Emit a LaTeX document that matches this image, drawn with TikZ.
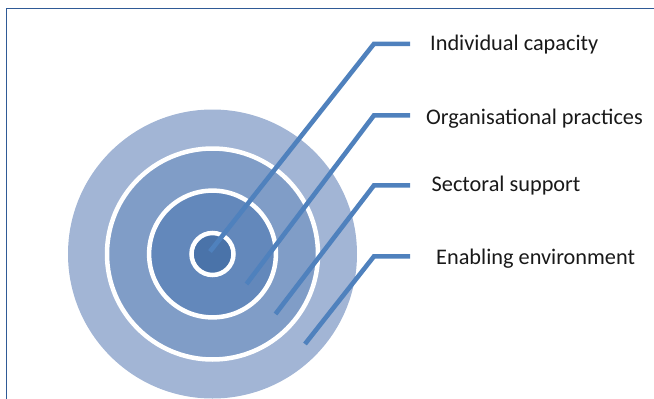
\documentclass[tikz,border=0pt]{standalone}
\usepackage{fontspec}
\setmainfont{Carlito}
\definecolor{frameblue}{HTML}{2F5A96}
\definecolor{ringA}{HTML}{A2B5D5}
\definecolor{ringB}{HTML}{809DC7}
\definecolor{ringC}{HTML}{6388BB}
\definecolor{ringD}{HTML}{4A73A9}
\definecolor{leader}{HTML}{4F81BD}
\begin{document}
\begin{tikzpicture}[x=1pt,y=-1pt,
  ring/.style={draw=white,line width=4.5pt},
  leaderline/.style={draw=leader,line width=4.6pt,line join=miter},
  label/.style={anchor=base west,inner sep=0pt,font=\fontsize{22.3pt}{26pt}\selectfont,text=black!90}]
  \useasboundingbox (0,0) rectangle (654,399);
  % frame (open at right and bottom)
  \draw[frameblue,line width=1.4pt] (6.7,399) -- (6.7,8.7) -- (654,8.7);
  % concentric rings
  \coordinate (c) at (212.5,254);
  \fill[ringA] (c) circle[radius=144.5];
  \path[ring,fill=ringB] (c) circle[radius=105.5];
  \path[ring,fill=ringC] (c) circle[radius=63.4];
  \path[ring,fill=ringD] (c) circle[radius=21];
  % labels
  \node[label] (l1) at (430,50.5) {Individual capacity};
  \node[label] (l2) at (426,124) {Organisational practices};
  \node[label] (l3) at (431.5,191.5) {Sectoral support};
  \node[label] (l4) at (436,264) {Enabling environment};
  % leader lines
  \coordinate (s1) at (210,251.5);   \coordinate (k1) at (374,43.8);  \coordinate (e1) at (410,43.8);
  \coordinate (s2) at (246.5,284);   \coordinate (k2) at (374,115.3); \coordinate (e2) at (410,115.3);
  \coordinate (s3) at (275.5,314);   \coordinate (k3) at (374,185.3); \coordinate (e3) at (410,185.3);
  \coordinate (s4) at (305,344);     \coordinate (k4) at (374,256.3); \coordinate (e4) at (410,256.3);
  \draw[leaderline] (s1) -- (k1) -- (e1);
  \draw[leaderline] (s2) -- (k2) -- (e2);
  \draw[leaderline] (s3) -- (k3) -- (e3);
  \draw[leaderline] (s4) -- (k4) -- (e4);
\end{tikzpicture}
\end{document}
